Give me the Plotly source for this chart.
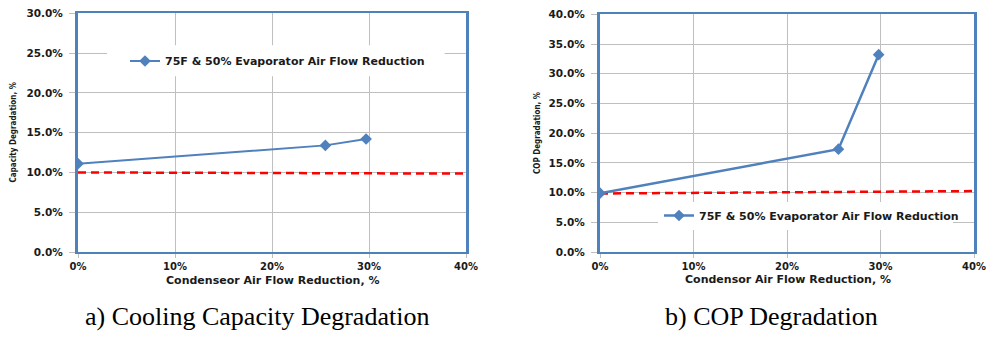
import plotly.graph_objects as go

# Condenser air flow reduction (fraction) and measured degradations
cond_reduction_a = [0.0, 0.255, 0.297]
capacity_degradation = [0.111, 0.134, 0.142]

cond_reduction_b = [0.0, 0.255, 0.298]
cop_degradation = [0.099, 0.173, 0.332]

# 10% reference lines
ref_x_a = [0.0, 0.40]
ref_y_a = [0.100, 0.0985]
ref_x_b = [0.0, 0.40]
ref_y_b = [0.0985, 0.1025]

series_name = "75F & 50% Evaporator Air Flow Reduction"
y_ticks_a = [0, 0.05, 0.10, 0.15, 0.20, 0.25, 0.30]
y_ticks_b = [0, 0.05, 0.10, 0.15, 0.20, 0.25, 0.30, 0.35, 0.40]
x_ticks = [0, 0.10, 0.20, 0.30, 0.40]

BLUE = "#4F81BD"
RED = "#FF0000"
GRID = "#BFBFBF"
INK = "#1a1a1a"
BOLD_FONT = "DejaVu Sans"
NARROW_FONT = "DejaVu Sans Condensed, Liberation Sans, sans-serif"

fig = go.Figure()

fig.add_trace(go.Scatter(
    x=ref_x_a, y=ref_y_a, mode="lines", xaxis="x", yaxis="y",
    line=dict(color=RED, width=2.5, dash="8px,5px"), showlegend=False, hoverinfo="skip"))
fig.add_trace(go.Scatter(
    x=cond_reduction_a, y=capacity_degradation, mode="lines+markers", xaxis="x", yaxis="y",
    name=series_name, legend="legend",
    line=dict(color=BLUE, width=2), marker=dict(symbol="diamond", size=9, color=BLUE)))

fig.add_trace(go.Scatter(
    x=ref_x_b, y=ref_y_b, mode="lines", xaxis="x2", yaxis="y2",
    line=dict(color=RED, width=2.5, dash="8px,5px"), showlegend=False, hoverinfo="skip"))
fig.add_trace(go.Scatter(
    x=cond_reduction_b, y=cop_degradation, mode="lines+markers", xaxis="x2", yaxis="y2",
    name=series_name, legend="legend2",
    line=dict(color=BLUE, width=2.5), marker=dict(symbol="diamond", size=9, color=BLUE)))

x_tick_font = dict(family=BOLD_FONT, size=10, color=INK, weight="bold")
y_tick_font = dict(family=BOLD_FONT, size=10.5, color=INK, weight="bold")


def xaxis_style(domain, anchor):
    return dict(
        domain=domain, anchor=anchor, range=[0, 0.40], tickvals=x_ticks, tickformat=".0%",
        showgrid=True, gridcolor=GRID, gridwidth=1, zeroline=False,
        showline=True, linecolor=BLUE, linewidth=2, mirror=True,
        ticks="outside", ticklen=4, tickcolor=GRID, tickfont=x_tick_font,
        ticklabeloverflow="allow", automargin=False, fixedrange=True)


def yaxis_style(domain, anchor, top, ticks):
    return dict(
        domain=domain, anchor=anchor, range=[0, top], tickvals=ticks, tickformat=".1%",
        showgrid=True, gridcolor=GRID, gridwidth=1, zeroline=False,
        showline=True, linecolor=BLUE, linewidth=3, mirror=True,
        ticks="outside", ticklen=6, tickcolor=GRID, tickfont=y_tick_font,
        ticklabelstandoff=4, ticklabeloverflow="allow", automargin=False, fixedrange=True)


def label(text, x, y, font, angle=0):
    return dict(text=text, x=x / 986, y=1 - y / 337, xref="paper", yref="paper",
                xanchor="center", yanchor="middle", textangle=angle,
                showarrow=False, font=font)


y_dom = [1 - 252 / 337, 1 - 13.3 / 337]
y_dom_b = [1 - 252 / 337, 1 - 14.3 / 337]
legend_font = dict(family=BOLD_FONT, size=11, color=INK, weight="bold")
title_font = dict(family=BOLD_FONT, size=11, color=INK, weight="bold")
narrow_font = dict(family=NARROW_FONT, size=8, color=INK, weight="bold")
caption_font = dict(family="Liberation Serif", size=26, color="black")

fig.update_layout(
    width=986, height=337, margin=dict(l=0, r=0, t=0, b=0, autoexpand=False),
    paper_bgcolor="white", plot_bgcolor="white",
    xaxis=xaxis_style([78 / 986, 466 / 986], "y"),
    yaxis=yaxis_style(y_dom, "x", 0.30, y_ticks_a),
    xaxis2=xaxis_style([600 / 986, 974 / 986], "y2"),
    yaxis2=yaxis_style(y_dom_b, "x2", 0.40, y_ticks_b),
    legend=dict(x=125 / 986, y=1 - 61 / 337, xanchor="left", yanchor="middle",
                bgcolor="rgba(0,0,0,0)", font=legend_font),
    legend2=dict(x=659 / 986, y=1 - 215.5 / 337, xanchor="left", yanchor="middle",
                 bgcolor="rgba(0,0,0,0)", font=legend_font),
    shapes=[
        # white legend panels covering the gridlines
        dict(type="rect", xref="x", yref="y", x0=0.030, x1=0.378, y0=0.221, y1=0.260,
             fillcolor="white", line=dict(width=0), layer="between"),
        dict(type="rect", xref="x2", yref="y2", x0=0.062, x1=0.3776, y0=0.037, y1=0.084,
             fillcolor="white", line=dict(width=0), layer="between"),
    ],
    annotations=[
        label("Capacity Degradation, %", 13, 132.5, narrow_font, -90),
        label("COP Degradation, %", 537, 133, narrow_font, -90),
        label("Condenseor Air Flow Reduction, %", 272, 280, title_font),
        label("Condensor Air Flow Reduction, %", 788, 279, title_font),
        label("a) Cooling Capacity Degradation", 257, 316, caption_font),
        label("b) COP Degradation", 771.5, 316, caption_font),
    ],
)

fig.write_html("out.html")
